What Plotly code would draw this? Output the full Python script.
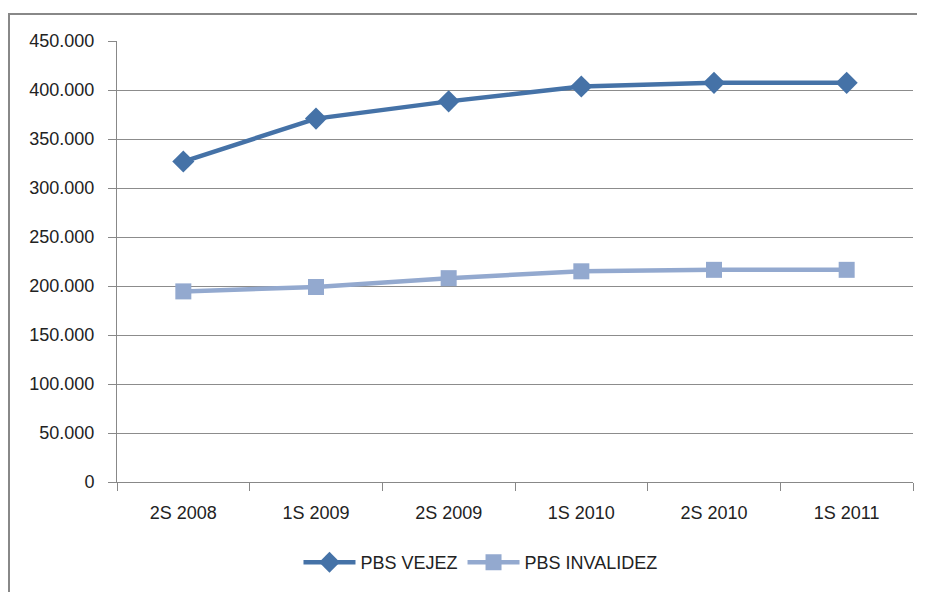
import plotly.graph_objects as go

periodos = ["2S 2008", "1S 2009", "2S 2009", "1S 2010", "2S 2010", "1S 2011"]
pbs_vejez = [327000, 370800, 388400, 403500, 407300, 407300]
pbs_invalidez = [194500, 199000, 208000, 215000, 216500, 216500]

fig = go.Figure()
fig.add_trace(go.Scatter(
    x=periodos, y=pbs_vejez, name="PBS VEJEZ", mode="lines+markers",
    line=dict(color="#4572A7", width=4.5),
    marker=dict(symbol="diamond", size=17, color="#4572A7"),
))
fig.add_trace(go.Scatter(
    x=periodos, y=pbs_invalidez, name="PBS INVALIDEZ", mode="lines+markers",
    line=dict(color="#93A9CF", width=4.5),
    marker=dict(symbol="square", size=16, color="#93A9CF"),
))

# the page adds an 8px body margin, so the figure is 8px smaller and shifted
fig.update_layout(
    width=917, height=584,
    margin=dict(l=109, r=12, t=33, b=109),
    paper_bgcolor="white", plot_bgcolor="white",
    separators=",.",
    font=dict(family="Liberation Sans, sans-serif", size=18, color="#222222"),
    showlegend=True,
    legend=dict(orientation="h", x=0.228, xanchor="left", y=-0.18, yanchor="middle",
                font=dict(size=18), itemwidth=52, tracegroupgap=0),
    xaxis=dict(
        type="category", showgrid=False, showline=True, linecolor="#888888", linewidth=1,
        ticks="outside", tickson="boundaries", ticklen=8, tickcolor="#888888",
        ticklabelstandoff=14, range=[-0.5, 5.5],
    ),
    yaxis=dict(
        range=[0, 450000], tickvals=list(range(0, 450001, 50000)), tickformat=",d",
        showgrid=True, gridcolor="#8c8c8c", gridwidth=1, zeroline=False,
        showline=True, linecolor="#888888", linewidth=1,
        ticks="outside", ticklen=8, tickcolor="#888888", ticklabelstandoff=10,
    ),
    shapes=[dict(
        type="rect", xref="paper", yref="paper",
        x0=(9 - 117) / 796, x1=1.1, y0=-0.5, y1=(483 - 14) / 442,
        line=dict(color="#888888", width=2), fillcolor="rgba(0,0,0,0)", layer="below",
    )],
)

fig.write_html("out.html")
